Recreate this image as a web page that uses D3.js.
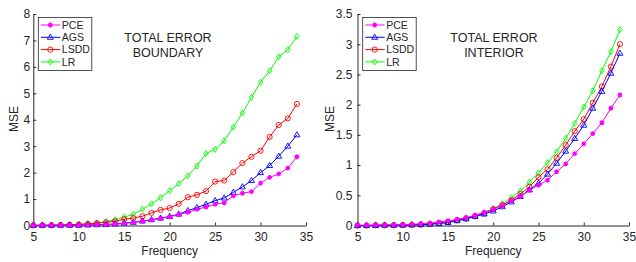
<!DOCTYPE html>
<html>
<head>
<meta charset="utf-8">
<script src="https://cdn.jsdelivr.net/npm/d3@7"></script>
<style>
  body { margin: 0; background: #fff; }
  svg text { font-family: "Liberation Sans", Arial, sans-serif; fill: #262626; }
  .axis path, .axis line { stroke: #262626; }
</style>
</head>
<body>
<svg id="chart" width="636" height="262"></svg>
<script>
// frequencies on the x axis
var freq = [5, 6, 7, 8, 9, 10, 11, 12, 13, 14, 15, 16, 17, 18, 19, 20,
  21, 22, 23, 24, 25, 26, 27, 28, 29, 30, 31, 32, 33, 34];

var seriesNames = ['PCE', 'AGS', 'LSDD', 'LR'];
var xTicks = [5, 10, 15, 20, 25, 30, 35];
var yTicksBoundary = [0, 1, 2, 3, 4, 5, 6, 7, 8];
var yTicksInterior = [0, 0.5, 1, 1.5, 2, 2.5, 3, 3.5];

// boundary panel
var pceBoundary = [0.005, 0.005, 0.01, 0.01, 0.01, 0.01, 0.015, 0.02, 0.03, 0.05, 0.08, 0.12, 0.16, 0.21, 0.27, 0.33,
  0.41, 0.5, 0.61, 0.7, 0.8, 0.86, 1.12, 1.22, 1.28, 1.6, 1.82, 1.95, 2.17, 2.6];
var agsBoundary = [0.005, 0.005, 0.01, 0.01, 0.01, 0.01, 0.02, 0.03, 0.04, 0.06, 0.09, 0.12, 0.17, 0.22, 0.28, 0.34,
  0.43, 0.56, 0.68, 0.8, 0.94, 1.04, 1.25, 1.46, 1.7, 2.0, 2.27, 2.62, 3.0, 3.43];
var lsddBoundary = [0.005, 0.01, 0.01, 0.02, 0.03, 0.04, 0.06, 0.09, 0.12, 0.16, 0.24, 0.28, 0.35, 0.48, 0.59, 0.66,
  0.82, 1.07, 1.16, 1.3, 1.66, 1.7, 2.02, 2.36, 2.6, 2.83, 3.35, 3.8, 4.05, 4.6];
var lrBoundary = [0.005, 0.01, 0.01, 0.02, 0.03, 0.04, 0.07, 0.1, 0.15, 0.22, 0.32, 0.42, 0.61, 0.82, 1.05, 1.32,
  1.58, 1.88, 2.25, 2.72, 2.88, 3.2, 3.72, 4.25, 4.85, 5.42, 5.85, 6.38, 6.65, 7.15];

// interior panel
var pceInterior = [0.005, 0.005, 0.005, 0.01, 0.01, 0.015, 0.02, 0.03, 0.04, 0.06, 0.08, 0.1, 0.13, 0.17, 0.22, 0.27,
  0.33, 0.41, 0.48, 0.58, 0.67, 0.75, 0.89, 1.02, 1.19, 1.35, 1.52, 1.7, 1.94, 2.16];
var agsInterior = [0.0, 0.0, 0.0, 0.005, 0.005, 0.005, 0.01, 0.015, 0.02, 0.03, 0.05, 0.08, 0.11, 0.15, 0.19, 0.24,
  0.31, 0.39, 0.48, 0.59, 0.7, 0.85, 1.03, 1.23, 1.44, 1.66, 1.94, 2.22, 2.52, 2.85];
var lsddInterior = [0.0, 0.0, 0.005, 0.005, 0.005, 0.01, 0.01, 0.015, 0.025, 0.04, 0.06, 0.09, 0.12, 0.16, 0.2, 0.27,
  0.34, 0.42, 0.52, 0.64, 0.8, 0.93, 1.12, 1.33, 1.56, 1.76, 2.03, 2.3, 2.63, 3.0];
var lrInterior = [0.0, 0.0, 0.005, 0.005, 0.005, 0.01, 0.015, 0.02, 0.03, 0.04, 0.05, 0.08, 0.11, 0.15, 0.21, 0.28,
  0.36, 0.46, 0.57, 0.72, 0.87, 1.04, 1.22, 1.44, 1.69, 1.96, 2.23, 2.56, 2.88, 3.24];

var colors = { PCE: '#ff00ff', AGS: '#0000ff', LSDD: '#ff0000', LR: '#00ff00' };
var symbols = { PCE: 'star', AGS: 'triangle', LSDD: 'circle', LR: 'diamond' };

var svg = d3.select('#chart');

function drawMarker(g, name, x, y) {
  var c = colors[name];
  var m;
  if (symbols[name] === 'circle') {
    m = g.append('circle').attr('cx', x).attr('cy', y).attr('r', 2.6);
  } else if (symbols[name] === 'triangle') {
    m = g.append('path').attr('d', 'M' + x + ',' + (y - 3.2) + 'L' + (x + 3) + ',' + (y + 2) + 'L' + (x - 3) + ',' + (y + 2) + 'Z');
  } else if (symbols[name] === 'diamond') {
    m = g.append('path').attr('d', 'M' + x + ',' + (y - 3) + 'L' + (x + 2.2) + ',' + y + 'L' + x + ',' + (y + 3) + 'L' + (x - 2.2) + ',' + y + 'Z');
  } else {
    // asterisk
    var p = '';
    [0, 45, 90, 135].forEach(function(a) {
      var r = 2.4, dx = r * Math.cos(a * Math.PI / 180), dy = r * Math.sin(a * Math.PI / 180);
      p += 'M' + (x - dx) + ',' + (y - dy) + 'L' + (x + dx) + ',' + (y + dy);
    });
    m = g.append('path').attr('d', p).attr('stroke-width', 1.3);
  }
  m.attr('fill', 'none').attr('stroke', c);
  if (symbols[name] !== 'star') m.attr('stroke-width', 0.9);
}

function drawPanel(opts) {
  var x = d3.scaleLinear().domain([5, 35]).range([opts.x0, opts.x1]);
  var y = d3.scaleLinear().domain([0, opts.yMax]).range([225.5, 14]);
  var g = svg.append('g');

  g.append('g')
    .attr('class', 'axis')
    .attr('transform', 'translate(0,225.5)')
    .call(d3.axisBottom(x).tickValues(xTicks).tickSizeInner(-3).tickSizeOuter(0).tickPadding(7))
    .call(function(a) { a.selectAll('text').attr('font-size', 12).attr('font-family', null); });

  g.append('g')
    .attr('class', 'axis')
    .attr('transform', 'translate(' + opts.x0 + ',0)')
    .call(d3.axisLeft(y).tickValues(opts.yTicks).tickSizeInner(-3).tickSizeOuter(0)
      .tickPadding(opts.yPad).tickFormat(function(d) { return String(d); }))
    .call(function(a) { a.selectAll('text').attr('font-size', 12).attr('font-family', null); });

  var line = d3.line()
    .x(function(d, i) { return x(freq[i]); })
    .y(function(d) { return y(d); });

  // draw LR first so PCE ends up on top, like the figure
  opts.series.slice().reverse().forEach(function(s) {
    var sg = g.append('g');
    sg.append('path')
      .datum(s.values)
      .attr('d', line)
      .attr('fill', 'none')
      .attr('stroke', colors[s.name])
      .attr('stroke-width', 1);
    s.values.forEach(function(v, i) {
      drawMarker(sg, s.name, x(freq[i]), y(v));
    });
  });

  // axis titles
  g.append('text')
    .attr('x', (opts.x0 + opts.x1) / 2)
    .attr('y', 255)
    .attr('text-anchor', 'middle')
    .attr('font-size', 12)
    .text('Frequency');

  g.append('text')
    .attr('transform', 'translate(' + opts.labelX + ',119) rotate(-90)')
    .attr('text-anchor', 'middle')
    .attr('font-size', 12)
    .text('MSE');

  // panel title
  var title = g.append('text')
    .attr('text-anchor', 'middle')
    .attr('font-size', 12.5);
  title.append('tspan').attr('x', opts.titleX).attr('y', 42).text('TOTAL ERROR');
  title.append('tspan').attr('x', opts.titleX).attr('y', 57).text(opts.title);

  // legend
  var lx = opts.legendX;
  var legend = g.append('g');
  legend.append('rect')
    .attr('x', lx).attr('y', 17.5)
    .attr('width', 53.5).attr('height', 53)
    .attr('fill', '#fff')
    .attr('stroke', '#262626')
    .attr('stroke-width', 0.8);
  seriesNames.forEach(function(name, i) {
    var ly = 25 + i * 12.3;
    legend.append('line')
      .attr('x1', lx + 2.5).attr('x2', lx + 22)
      .attr('y1', ly).attr('y2', ly)
      .attr('stroke', colors[name]).attr('stroke-width', 1);
    drawMarker(legend, name, lx + 12, ly);
    legend.append('text')
      .attr('x', lx + 23.5).attr('y', ly + 3.7)
      .attr('font-size', 10.5)
      .text(name);
  });
}

drawPanel({
  x0: 33.3, x1: 306, yMax: 8, yTicks: yTicksBoundary, yPad: 3,
  labelX: 18, titleX: 168, title: 'BOUNDARY', legendX: 38.3,
  series: [
    { name: 'PCE', values: pceBoundary },
    { name: 'AGS', values: agsBoundary },
    { name: 'LSDD', values: lsddBoundary },
    { name: 'LR', values: lrBoundary }
  ]
});

drawPanel({
  x0: 357.5, x1: 629, yMax: 3.5, yTicks: yTicksInterior, yPad: 5,
  labelX: 334, titleX: 494, title: 'INTERIOR', legendX: 362.7,
  series: [
    { name: 'PCE', values: pceInterior },
    { name: 'AGS', values: agsInterior },
    { name: 'LSDD', values: lsddInterior },
    { name: 'LR', values: lrInterior }
  ]
});
</script>
</body>
</html>
